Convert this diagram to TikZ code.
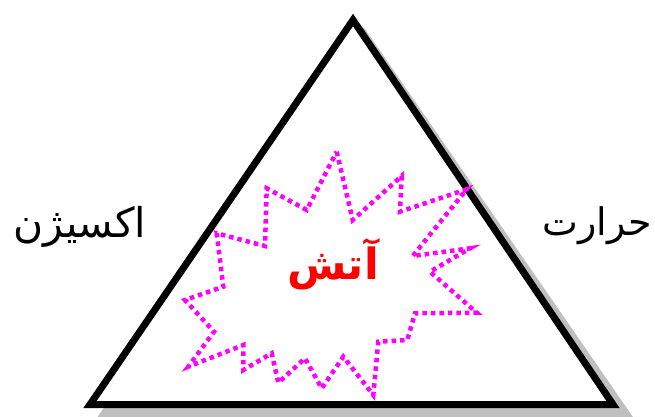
\documentclass[tikz,border=0pt]{standalone}
\usepackage{fontspec}
\newfontfamily\arabicfont[Script=Arabic]{DejaVu Sans}
\TeXXeTstate=1
\definecolor{burstpink}{RGB}{255,0,255}
\definecolor{firered}{RGB}{255,0,0}

\begin{document}
\begin{tikzpicture}[x=1pt, y=-1pt]
        \tikzset{side/.style={font=\arabicfont\fontsize{41}{48}\selectfont, inner sep=0pt},
                 burst/.style={draw=burstpink, line width=4.5pt, dash pattern=on 4.5pt off 4pt}}
        \useasboundingbox (0,0) rectangle (655,417);

        % shadow and triangle
        \fill[black!25] (364,27.6) -- (95.5,420) -- (635,420) -- cycle;
        \draw[line width=7pt, fill=white] (353,20) -- (90,404.5) -- (613,404.5) -- cycle;

        % star
        \draw[burst] (336.7,151.7) -- (352.7,220) -- (401.7,176) -- (400,211.7) -- (466.7,189.3)
          -- (412.7,256) -- (470,248.3) -- (430,271.7) -- (476.7,312.7) -- (415,313.3)
          -- (407.3,340) -- (378.3,341.7) -- (373.3,395) -- (343.3,356.7) -- (321.7,388.3)
          -- (305,358.3) -- (278.3,382.7) -- (271.7,353.3) -- (243.3,370) -- (243.3,345)
          -- (188.3,366.7) -- (214,331.7) -- (185,300) -- (223.3,286.7) -- (216.7,233.3)
          -- (265,246) -- (266.7,188.3) -- (306.7,210) -- cycle;

        \node[font=\arabicfont\bfseries\fontsize{43}{50}\selectfont, text=firered] (fire) at (333,264) {\beginR آتش\endR};
        \node[side] (oxygen) at (80,227) {\beginR اکسیژن\endR};
        \node[side, font=\arabicfont\fontsize{38}{44}\selectfont] (heat) at (597,226) {\beginR حرارت\endR};
\end{tikzpicture}
\end{document}
